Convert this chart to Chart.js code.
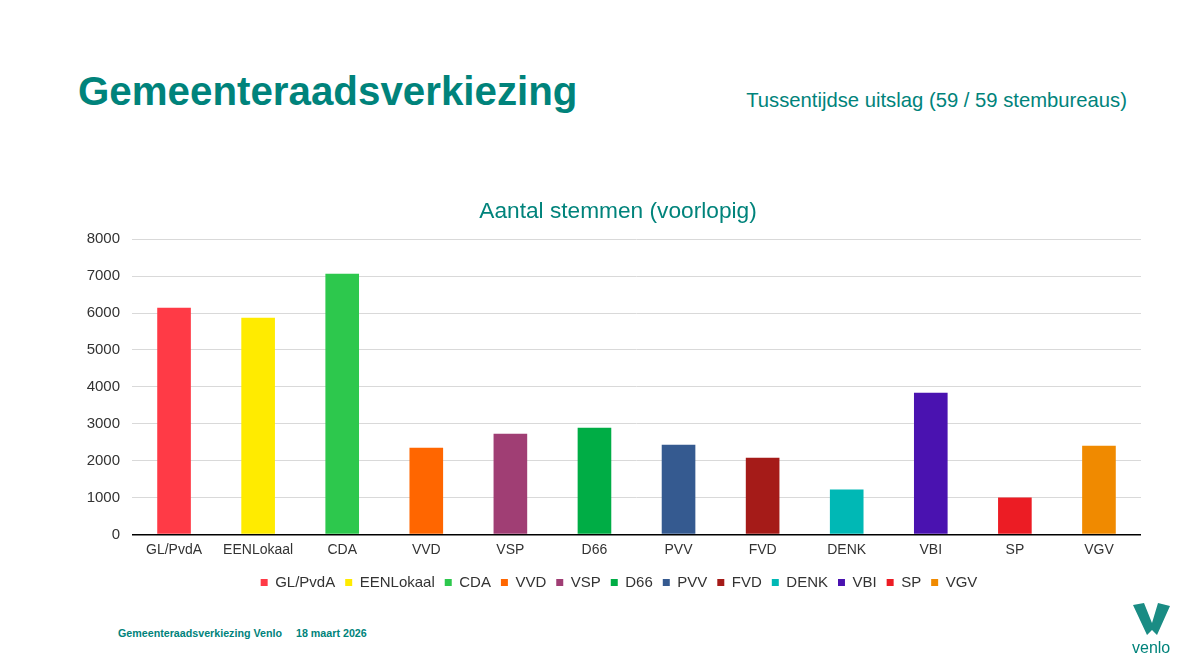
<!DOCTYPE html>
<html>
<head>
<meta charset="utf-8">
<script src="https://cdn.jsdelivr.net/npm/chart.js@4/dist/chart.umd.min.js"></script>
<style>
  html, body { margin: 0; padding: 0; background: #fff; }
  #page { position: relative; width: 1203px; height: 667px; overflow: hidden; background: #fff; font-family: "Liberation Sans", Arial, sans-serif; }
  .txt { position: absolute; white-space: nowrap; color: #00837B; }
  #h1 { left: 78px; top: 72px; font-size: 40.3px; line-height: 40px; font-weight: bold; }
  #sub { right: 76px; top: 90px; font-size: 20.25px; line-height: 20px; }
  #f1 { left: 118px; top: 627.6px; font-size: 10.7px; line-height: 10.7px; font-weight: bold; }
  #f2 { left: 296px; top: 627.6px; font-size: 10.7px; line-height: 10.7px; font-weight: bold; }
  #venlo { left: 1132px; top: 640px; font-size: 16px; line-height: 16px; }
  #logo { position: absolute; left: 0; top: 0; }
  #cv { position: absolute; left: 80px; top: 191px; }
</style>
</head>
<body>
<div id="page">
  <div class="txt" id="h1">Gemeenteraadsverkiezing</div>
  <div class="txt" id="sub">Tussentijdse uitslag (59 / 59 stembureaus)</div>
  <canvas id="cv" width="1074" height="415"></canvas>
  <div class="txt" id="f1">Gemeenteraadsverkiezing Venlo</div>
  <div class="txt" id="f2">18 maart 2026</div>
  <svg id="logo" width="1203" height="667"><polygon points="1133,605 1144,603 1152,623 1158,603 1170,606 1157,635 1152,630 1147,635" fill="#1A8C84"/></svg>
  <div class="txt" id="venlo">venlo</div>
</div>
<script>
const categories = ['GL/PvdA', 'EENLokaal', 'CDA', 'VVD', 'VSP', 'D66', 'PVV', 'FVD', 'DENK', 'VBI', 'SP', 'VGV'];
const votes = [6145, 5872, 7062, 2350, 2730, 2890, 2430, 2080, 1215, 3840, 1000, 2405];
const partyColors = ['#FF3A46', '#FFEB00', '#2DC84D', '#FF6600', '#A03E74', '#00AD45', '#355A90', '#A51B18', '#00B8B5', '#4A12B0', '#EC1C24', '#F08A00'];
const yMin = 0, yMax = 8000, yStep = 1000;
const chartTitle = 'Aantal stemmen (voorlopig)';

const FONT = '"Liberation Sans", Arial, sans-serif';

// shift title and legend centre a little to the right (reference centres them on the slide)
const shiftBlocks = {
  id: 'shiftBlocks',
  afterLayout(chart) {
    if (chart.titleBlock) chart.titleBlock.left += 15;
    if (chart.legend) { chart.legend.left += 17; }
  }
};

new Chart(document.getElementById('cv'), {
  type: 'bar',
  data: {
    labels: categories,
    datasets: [{
      data: votes,
      backgroundColor: partyColors,
      borderWidth: 0,
      categoryPercentage: 1,
      barPercentage: 0.4
    }]
  },
  plugins: [shiftBlocks],
  options: {
    responsive: false,
    animation: false,
    layout: { padding: { left: 0, right: 13, top: 0, bottom: 6 } },
    plugins: {
      tooltip: { enabled: false },
      title: {
        display: true,
        text: chartTitle,
        color: '#00837B',
        font: { family: FONT, size: 22.7, weight: 'normal' },
        padding: { top: 7, bottom: 14 }
      },
      legend: {
        display: true,
        position: 'bottom',
        onClick: null,
        labels: {
          boxWidth: 7,
          boxHeight: 7,
          padding: 10,
          color: '#333',
          font: { family: FONT, size: 15 },
          generateLabels(chart) {
            const ds = chart.data.datasets[0];
            return chart.data.labels.map((l, i) => ({
              text: l, fillStyle: ds.backgroundColor[i], strokeStyle: ds.backgroundColor[i],
              lineWidth: 0, hidden: false, index: i, datasetIndex: 0, fontColor: '#333'
            }));
          }
        }
      }
    },
    scales: {
      x: {
        grid: { display: false, drawTicks: false },
        border: { display: false },
        ticks: { color: '#333', font: { family: FONT, size: 14, lineHeight: 0.9 }, padding: 9, maxRotation: 0, autoSkip: false }
      },
      y: {
        min: yMin, max: yMax,
        afterFit(scale) { scale.width = 52; },
        border: { display: false },
        grid: {
          drawTicks: false,
          color: (c) => c.tick && c.tick.value === 0 ? '#000' : '#D9D9D9',
          lineWidth: (c) => c.tick && c.tick.value === 0 ? 1.5 : 1
        },
        ticks: {
          stepSize: yStep, color: '#333', font: { family: FONT, size: 15 }, padding: 12,
          callback: (v) => String(v)
        }
      }
    }
  }
});
</script>
</body>
</html>
